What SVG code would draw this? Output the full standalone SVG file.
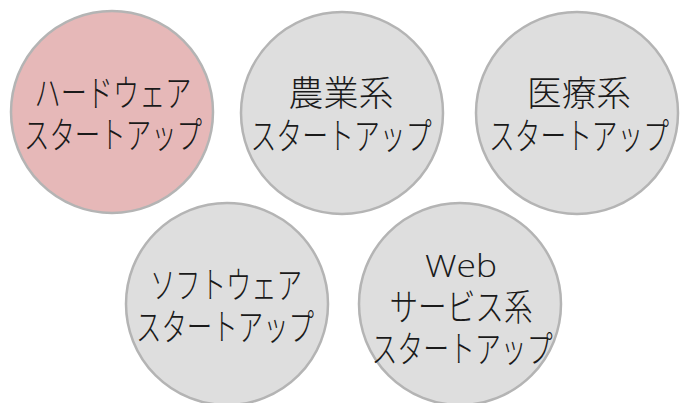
<svg xmlns="http://www.w3.org/2000/svg" width="680" height="403" viewBox="0 0 680 403">
<style>
.c{stroke:#b4b4b4;stroke-width:2.5}
.g{fill:#dedede}
.p{fill:#e6b8b8}
text{font-family:"Noto Sans CJK JP","Noto Sans",sans-serif;font-size:37px;font-weight:300;fill:#1a1a1a;text-anchor:middle}
.k{font-size:35px}
.w{font-family:"Open Sans","Noto Sans",sans-serif;font-size:31px;font-weight:300}
</style>
<rect width="680" height="403" fill="#ffffff"/>
<g id="connectors"></g>
<g id="hardware">
<circle class="c p" cx="112" cy="112" r="101"/>
<text x="113" y="107" textLength="157" lengthAdjust="spacingAndGlyphs">ハードウェア</text>
<text x="113" y="149" textLength="178" lengthAdjust="spacingAndGlyphs">スタートアップ</text>
</g>
<g id="agri">
<circle class="c g" cx="342" cy="113" r="101"/>
<text class="k" x="341" y="106" textLength="105" lengthAdjust="spacingAndGlyphs">農業系</text>
<text x="341" y="150" textLength="181" lengthAdjust="spacingAndGlyphs">スタートアップ</text>
</g>
<g id="medical">
<circle class="c g" cx="577" cy="113" r="101"/>
<text class="k" x="579" y="106" textLength="104" lengthAdjust="spacingAndGlyphs">医療系</text>
<text x="579" y="150" textLength="180" lengthAdjust="spacingAndGlyphs">スタートアップ</text>
</g>
<g id="software">
<circle class="c g" cx="227" cy="304" r="101"/>
<text x="226" y="299" textLength="152" lengthAdjust="spacingAndGlyphs">ソフトウェア</text>
<text x="225" y="341" textLength="178" lengthAdjust="spacingAndGlyphs">スタートアップ</text>
</g>
<g id="web">
<circle class="c g" cx="460" cy="304" r="101"/>
<text class="w" x="461" y="277" textLength="72" lengthAdjust="spacingAndGlyphs">Web</text>
<text x="461" y="321" textLength="143" lengthAdjust="spacingAndGlyphs">サービス系</text>
<text x="462" y="363" textLength="181" lengthAdjust="spacingAndGlyphs">スタートアップ</text>
</g>
</svg>
